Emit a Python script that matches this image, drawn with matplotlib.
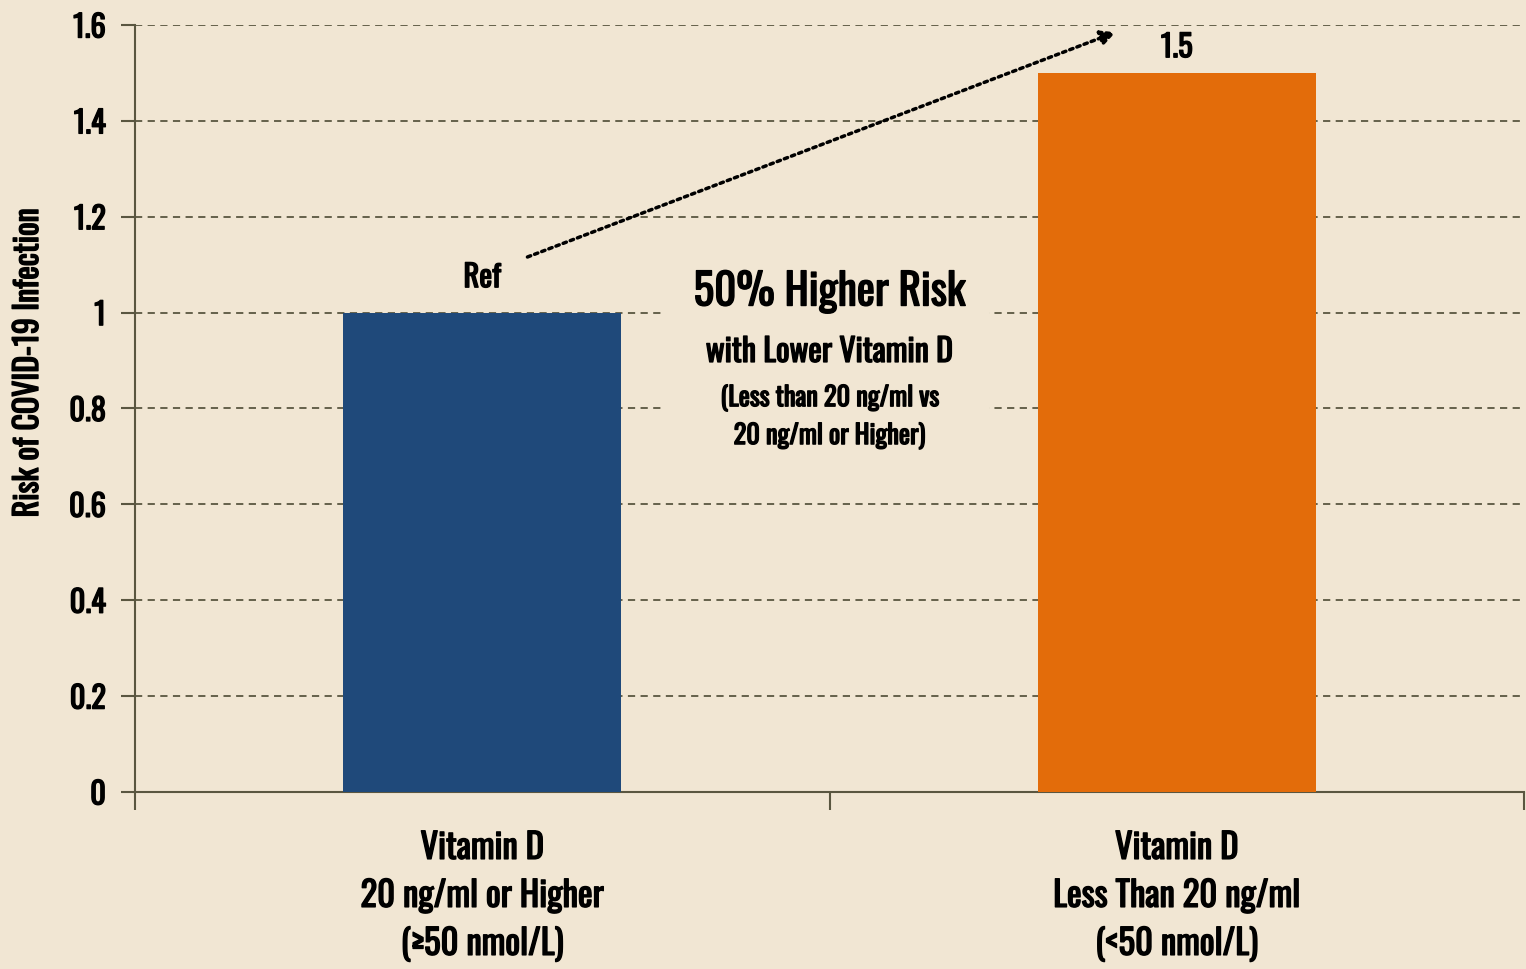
import matplotlib
matplotlib.use("Agg")
import matplotlib.pyplot as plt
import matplotlib.patheffects as pe
from matplotlib import font_manager
from matplotlib.patches import Rectangle

# data
categories = ["Vitamin D\n20 ng/ml or Higher\n(\u226550 nmol/L)",
              "Vitamin D\nLess Than 20 ng/ml\n(<50 nmol/L)"]
risk = [1.0, 1.5]
bar_labels = ["Ref", "1.5"]
yticks = [0, 0.2, 0.4, 0.6, 0.8, 1.0, 1.2, 1.4, 1.6]
ytick_labels = ["0", "0.2", "0.4", "0.6", "0.8", "1", "1.2", "1.4", "1.6"]

bg = "#f1e6d3"
axis_col = "#5a5640"
colors = ["#1f497a", "#e36c0a"]

# pick a narrow font if one is installed
names = {f.name for f in font_manager.fontManager.ttflist}
family = 'DejaVu Sans'
for cand in ['Oswald', 'League Gothic', 'Fjalla One', 'Roboto Condensed',
             'Fira Sans Extra Condensed', 'Liberation Sans Narrow']:
    if cand in names:
        family = cand
        break
plt.rcParams['font.family'] = [family, 'DejaVu Sans']
plt.rcParams['font.weight'] = 'bold'

fig = plt.figure(figsize=(15.26, 9.70), dpi=100, facecolor=bg)
ax = fig.add_axes([0.0885, 0.1825, 0.9102, 0.7907], facecolor=bg)

x = list(range(len(categories)))
ax.bar(x, risk, width=0.4, color=colors, zorder=3)

ax.set_xlim(-0.5, 1.5)
ax.set_ylim(0, 1.6)
ax.set_yticks(yticks)
ax.set_yticklabels(ytick_labels, fontsize=22)
ax.yaxis.grid(True, linestyle=(0, (4, 3)), color=axis_col, linewidth=1.3, zorder=1)

# category labels without ticks, tick marks between categories
ax.set_xticks([-0.5, 0.5, 1.5])
ax.set_xticklabels([])
ax.set_xticks(x, minor=True)
ax.set_xticklabels(categories, minor=True, fontsize=25, linespacing=1.5)
ax.tick_params(axis='x', which='minor', length=0, pad=28)
ax.tick_params(axis='x', which='major', length=13, width=1.5, color=axis_col, direction='out')
ax.tick_params(axis='y', length=10, width=1.5, color=axis_col, pad=11)

for s in ['top', 'right']:
    ax.spines[s].set_visible(False)
for s in ['left', 'bottom']:
    ax.spines[s].set_color(axis_col)
    ax.spines[s].set_linewidth(1.5)

label_pad = [14, 7]
for xi, v, lab, pad in zip(x, risk, bar_labels, label_pad):
    ax.annotate(lab, (xi, v), xytext=(0, pad), textcoords='offset points',
                ha='center', va='bottom', fontsize=22, zorder=4)

ax.annotate("", xy=(0.912, 1.585), xytext=(0.065, 1.116),
            arrowprops=dict(arrowstyle='-|>', linestyle=(0, (1, 1.2)), linewidth=2.5,
                            color='black', mutation_scale=22, shrinkA=0, shrinkB=0),
            zorder=5)

# plain box hiding the grid behind the middle note
ax.add_patch(Rectangle((0.262, 0.7), 0.468, 0.42, facecolor=bg, edgecolor='none', zorder=2))
ax.text(0.5, 1.043, "50% Higher Risk", ha='center', va='center', fontsize=31, zorder=4)
ax.text(0.5, 0.918, "with Lower Vitamin D", ha='center', va='center', fontsize=23, zorder=4)
ax.text(0.5, 0.782, "(Less than 20 ng/ml vs\n20 ng/ml or Higher)", ha='center', va='center',
        fontsize=19, linespacing=1.45, zorder=4)

fig.text(28 / 1526, 1 - 364 / 970, "Risk of COVID-19 Infection", rotation=90,
         ha='center', va='center', fontsize=23)

# the font has no bold face here, so thicken the strokes a little
thick = [pe.withStroke(linewidth=1.0, foreground='black')]
texts = list(ax.texts) + list(fig.texts)
texts += ax.get_yticklabels() + ax.get_xticklabels(minor=True)
for t in texts:
    t.set_path_effects(thick)

fig.savefig("out.png", dpi=100, facecolor=bg)
